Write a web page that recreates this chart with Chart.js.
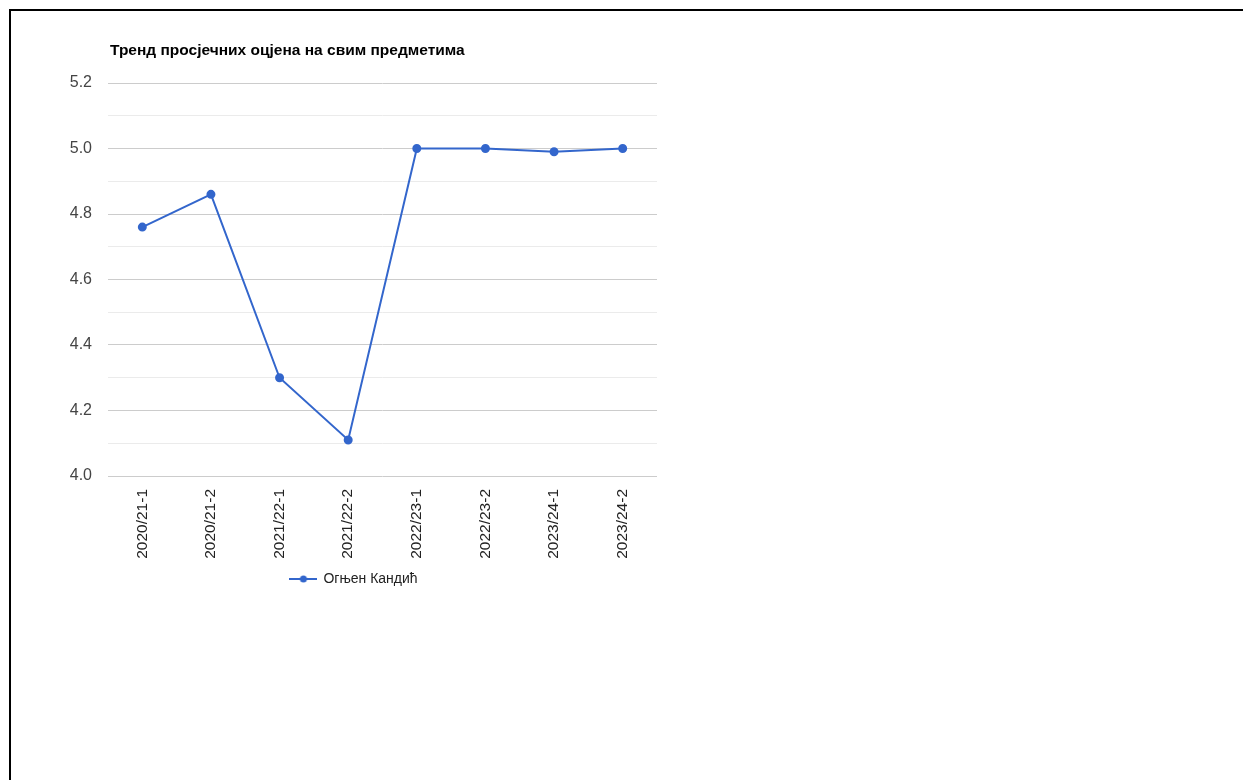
<!DOCTYPE html>
<html>
<head>
<meta charset="utf-8">
<script src="https://cdn.jsdelivr.net/npm/chart.js@4"></script>
<style>
  html, body { margin: 0; padding: 0; background: #fff; overflow: hidden; }
  #frame {
    position: absolute; left: 9px; top: 9px;
    width: 3000px; height: 2000px;
    border-top: 2px solid #000; border-left: 2px solid #000;
  }
  #wrap { position: absolute; left: 0; top: 0; width: 700px; height: 640px; }
</style>
</head>
<body>
<div id="frame"></div>
<div id="wrap"><canvas id="trendChart"></canvas></div>
<script>
// Data
const chartTitle = 'Тренд просјечних оцјена на свим предметима';
const semesters = ['2020/21-1', '2020/21-2', '2021/22-1', '2021/22-2', '2022/23-1', '2022/23-2', '2023/24-1', '2023/24-2'];
const averages = [4.76, 4.86, 4.30, 4.11, 5.00, 5.00, 4.99, 5.00];
const seriesName = 'Огњен Кандић';
const yMin = 4.0, yMax = 5.2, yStep = 0.1;

const lineColor = '#3366cc';
const fontFamily = 'Arial, "Liberation Sans", sans-serif';

// legend marker: line with a dot, like the original
function legendMarker() {
    const c = document.createElement('canvas');
    c.width = 28; c.height = 10;
    const g = c.getContext('2d');
    g.strokeStyle = lineColor; g.lineWidth = 2;
    g.beginPath(); g.moveTo(0, 5); g.lineTo(28, 5); g.stroke();
    g.fillStyle = lineColor;
    g.beginPath(); g.arc(14, 5, 3.5, 0, Math.PI * 2); g.fill();
    return c;
}

// title drawn aligned with the plot area's left edge
const titlePlugin = {
    id: 'leftTitle',
    afterDraw(chart) {
        const ctx = chart.ctx;
        ctx.save();
        ctx.font = 'bold 15.5px ' + fontFamily;
        ctx.fillStyle = '#000';
        ctx.textBaseline = 'alphabetic';
        ctx.fillText(chartTitle, chart.chartArea.left + 2, 55);
        ctx.restore();
    }
};

const isMajor = v => Math.round(v * 10) % 2 === 0;

const ctx = document.getElementById('trendChart').getContext('2d');
const chart = new Chart(ctx, {
    type: 'line',
    data: {
        labels: semesters,
        datasets: [{
            label: seriesName,
            data: averages,
            borderColor: lineColor,
            backgroundColor: lineColor,
            borderWidth: 2,
            pointRadius: 3.5,
            pointHoverRadius: 4,
            tension: 0,
            fill: false
        }]
    },
    options: {
        responsive: true,
        maintainAspectRatio: false,
        animation: false,
        layout: { padding: { top: 83, right: 43, left: 51, bottom: 44 } },
        plugins: {
            title: { display: false },
            tooltip: { enabled: false },
            legend: {
                position: 'bottom',
                labels: {
                    font: { family: fontFamily, size: 14 },
                    color: '#222',
                    usePointStyle: true,
                    pointStyleWidth: 26,
                    padding: 4,
                    generateLabels: () => [{
                        text: seriesName,
                        pointStyle: legendMarker(),
                        fillStyle: lineColor,
                        strokeStyle: lineColor,
                        fontColor: '#222',
                        datasetIndex: 0
                    }]
                }
            }
        },
        scales: {
            x: {
                offset: true,
                grid: { display: false, drawTicks: false },
                border: { display: false },
                ticks: {
                    minRotation: 90, maxRotation: 90,
                    padding: 13,
                    color: '#222',
                    font: { family: fontFamily, size: 15.5 }
                },
                afterFit: (s) => { s.height = 92; }
            },
            y: {
                min: yMin, max: yMax,
                grid: {
                    drawTicks: false,
                    color: (c) => isMajor(c.tick.value) ? '#cccccc' : '#ebebeb',
                    lineWidth: 1
                },
                border: { display: false },
                ticks: {
                    stepSize: yStep,
                    autoSkip: false,
                    padding: 16,
                    color: '#444',
                    font: { family: fontFamily, size: 16 },
                    callback: (v) => isMajor(v) ? v.toFixed(1) : ''
                },
                afterFit: (s) => { s.width = 57; }
            }
        }
    },
    plugins: [titlePlugin]
});
</script>
</body>
</html>
